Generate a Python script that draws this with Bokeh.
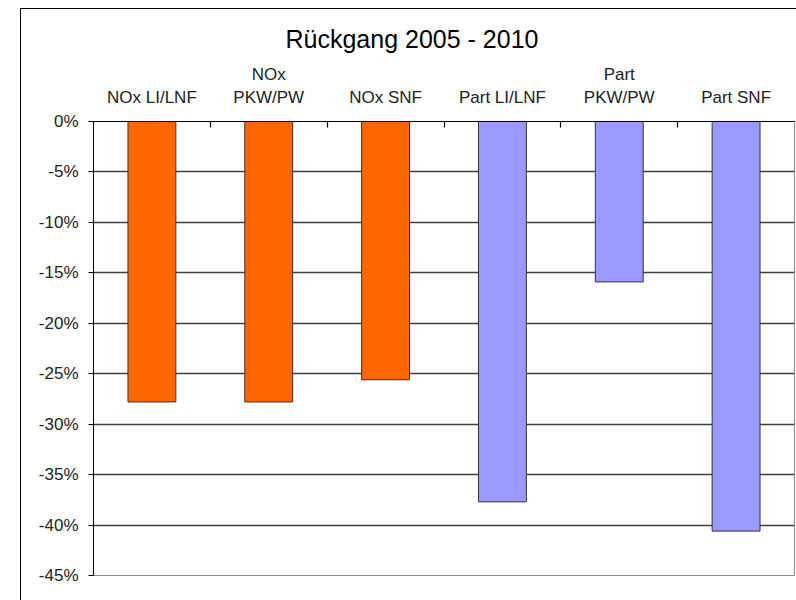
from bokeh.plotting import figure
from bokeh.models import (Range1d, FixedTicker, NumeralTickFormatter, LinearAxis,
                          ColumnDataSource, Title)
from bokeh.embed import file_html
from bokeh.resources import INLINE

# ---- data ----
categories = ["NOx LI/LNF", "NOx\nPKW/PW", "NOx SNF", "Part LI/LNF", "Part\nPKW/PW", "Part SNF"]
values = [-0.278, -0.278, -0.256, -0.377, -0.159, -0.406]
groups = ["NOx", "NOx", "NOx", "Part", "Part", "Part"]
y_ticks = [0.0, -0.05, -0.10, -0.15, -0.20, -0.25, -0.30, -0.35, -0.40, -0.45]
title_text = "Rückgang 2005 - 2010"

group_colors = {"NOx": "#FF6600", "Part": "#9999FF"}
FONT = "Liberation Sans"

n = len(categories)
centers = [i + 0.5 for i in range(n)]
src = ColumnDataSource(dict(
    x=centers,
    bottom=values,
    top=[0.0] * n,
    color=[group_colors[g] for g in groups],
))

p = figure(width=776, height=592, output_backend="svg", toolbar_location=None,
           x_range=Range1d(0, n), y_range=Range1d(min(y_ticks), 0),
           x_axis_location=None, y_axis_location=None,
           min_border_left=72, min_border_right=3, min_border_top=112, min_border_bottom=26)
p.margin = (8, 0, 0, 20)
p.styles = {"border-left": "1px solid black", "border-top": "1px solid black",
            "box-sizing": "border-box"}

p.background_fill_color = "white"
p.border_fill_color = "white"
p.outline_line_color = "#8c8c8c"
p.outline_line_width = 1

p.vbar(x="x", top="top", bottom="bottom", width=0.41, source=src,
       fill_color="color", line_color="#333333", line_width=1)

# left axis
yax = LinearAxis(ticker=FixedTicker(ticks=y_ticks),
                 formatter=NumeralTickFormatter(format="0%"))
yax.major_tick_in = 0
yax.major_tick_out = 5
yax.minor_tick_line_color = None
yax.major_label_standoff = 10
yax.axis_line_color = "black"
yax.major_tick_line_color = "black"
yax.major_label_text_font = FONT
yax.major_label_text_font_size = "17px"
yax.major_label_text_color = "#222222"
p.add_layout(yax, "left")

# top axis: boundary ticks
xt = LinearAxis(ticker=FixedTicker(ticks=list(range(1, n))))
xt.major_tick_in = 6
xt.major_tick_out = 0
xt.minor_tick_line_color = None
xt.major_label_overrides = {i: "" for i in range(1, n)}
xt.major_label_standoff = 0
xt.axis_line_color = "black"
xt.major_tick_line_color = "black"
xt.major_tick_line_width = 1.2

# top axis: category labels
xl = LinearAxis(ticker=FixedTicker(ticks=centers))
xl.major_label_overrides = {c: lab for c, lab in zip(centers, categories)}
xl.major_tick_in = 0
xl.major_tick_out = 0
xl.minor_tick_line_color = None
xl.axis_line_color = None
xl.major_label_standoff = 15
xl.major_label_text_font = FONT
xl.major_label_text_font_size = "17px"
xl.major_label_text_color = "#222222"

p.above = [xt, xl]

# gridlines
p.xgrid.visible = False
p.ygrid.ticker = FixedTicker(ticks=y_ticks)
p.ygrid.grid_line_color = "#404040"
p.ygrid.grid_line_width = 1.3

p.title = Title(text=title_text, align="left", offset=192, standoff=17,
                text_font=FONT, text_font_size="25px", text_font_style="normal",
                text_color="black")

open("out.html", "w").write(file_html(p, INLINE))
